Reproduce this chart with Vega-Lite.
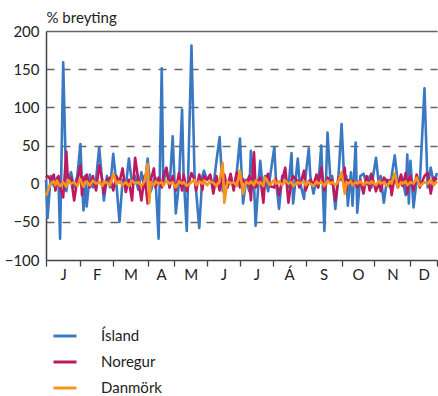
{
  "$schema": "https://vega.github.io/schema/vega-lite/v6.json",
  "width": 391,
  "height": 229,
  "autosize": {"type": "none"},
  "padding": {"left": 46, "top": 31, "right": 1, "bottom": 136},
  "config": {"font": "Lato", "view": {"stroke": null}},
  "data": {"values": [
    {"d":0,"Ísland":5,"Noregur":8,"Danmörk":-16},
    {"d":1,"Ísland":-45,"Noregur":10,"Danmörk":-10},
    {"d":3,"Ísland":10,"Noregur":5,"Danmörk":0},
    {"d":5,"Ísland":-3,"Noregur":12,"Danmörk":3},
    {"d":6,"Ísland":2,"Noregur":-9,"Danmörk":-2},
    {"d":7,"Ísland":8,"Noregur":3,"Danmörk":4},
    {"d":8,"Ísland":3,"Noregur":10,"Danmörk":0},
    {"d":9,"Ísland":-72,"Noregur":-5,"Danmörk":-3},
    {"d":11,"Ísland":159,"Noregur":-18,"Danmörk":2},
    {"d":13,"Ísland":-10,"Noregur":42,"Danmörk":-4},
    {"d":14,"Ísland":5,"Noregur":5,"Danmörk":5},
    {"d":16,"Ísland":15,"Noregur":8,"Danmörk":0},
    {"d":18,"Ísland":-5,"Noregur":-22,"Danmörk":2},
    {"d":20,"Ísland":10,"Noregur":5,"Danmörk":-3},
    {"d":22,"Ísland":52,"Noregur":24,"Danmörk":6},
    {"d":23,"Ísland":0,"Noregur":-15,"Danmörk":0},
    {"d":24,"Ísland":-35,"Noregur":8,"Danmörk":-4},
    {"d":25,"Ísland":10,"Noregur":2,"Danmörk":2},
    {"d":26,"Ísland":-30,"Noregur":12,"Danmörk":3},
    {"d":28,"Ísland":12,"Noregur":-5,"Danmörk":-2},
    {"d":30,"Ísland":-5,"Noregur":10,"Danmörk":4},
    {"d":32,"Ísland":5,"Noregur":-9,"Danmörk":0},
    {"d":34,"Ísland":48,"Noregur":24,"Danmörk":2},
    {"d":36,"Ísland":0,"Noregur":5,"Danmörk":-3},
    {"d":37,"Ísland":-22,"Noregur":-13,"Danmörk":3},
    {"d":39,"Ísland":10,"Noregur":6,"Danmörk":1},
    {"d":41,"Ísland":-5,"Noregur":8,"Danmörk":-2},
    {"d":43,"Ísland":39,"Noregur":-9,"Danmörk":13},
    {"d":45,"Ísland":0,"Noregur":10,"Danmörk":0},
    {"d":47,"Ísland":-50,"Noregur":2,"Danmörk":3},
    {"d":49,"Ísland":5,"Noregur":20,"Danmörk":-2},
    {"d":51,"Ísland":-5,"Noregur":-11,"Danmörk":2},
    {"d":53,"Ísland":33,"Noregur":5,"Danmörk":-3},
    {"d":55,"Ísland":0,"Noregur":-22,"Danmörk":4},
    {"d":57,"Ísland":10,"Noregur":34,"Danmörk":0},
    {"d":59,"Ísland":-8,"Noregur":5,"Danmörk":2},
    {"d":61,"Ísland":15,"Noregur":-22,"Danmörk":-3},
    {"d":63,"Ísland":-5,"Noregur":10,"Danmörk":3},
    {"d":65,"Ísland":33,"Noregur":-26,"Danmörk":26},
    {"d":66,"Danmörk":-25},
    {"d":67,"Ísland":-10,"Noregur":5,"Danmörk":2},
    {"d":69,"Ísland":5,"Noregur":20,"Danmörk":-2},
    {"d":70,"Ísland":8,"Noregur":-5,"Danmörk":3},
    {"d":72,"Ísland":-72,"Noregur":8,"Danmörk":0},
    {"d":74,"Ísland":151,"Noregur":-5,"Danmörk":2},
    {"d":75,"Ísland":0,"Noregur":10,"Danmörk":-3},
    {"d":77,"Ísland":20,"Noregur":21,"Danmörk":4},
    {"d":79,"Ísland":-5,"Noregur":-5,"Danmörk":0},
    {"d":81,"Ísland":62,"Noregur":10,"Danmörk":2},
    {"d":83,"Ísland":-39,"Noregur":-9,"Danmörk":-5},
    {"d":85,"Ísland":0,"Noregur":14,"Danmörk":3},
    {"d":87,"Ísland":97,"Noregur":-9,"Danmörk":0},
    {"d":88,"Ísland":10,"Noregur":12,"Danmörk":2},
    {"d":90,"Ísland":-62,"Noregur":-10,"Danmörk":-3},
    {"d":93,"Ísland":181,"Noregur":14,"Danmörk":2},
    {"d":95,"Ísland":10,"Noregur":5,"Danmörk":5},
    {"d":96,"Ísland":-10,"Noregur":-9,"Danmörk":-2},
    {"d":98,"Ísland":-58,"Noregur":12,"Danmörk":3},
    {"d":100,"Ísland":10,"Noregur":-8,"Danmörk":0},
    {"d":101,"Ísland":17,"Noregur":10,"Danmörk":4},
    {"d":103,"Ísland":5,"Noregur":5,"Danmörk":-2},
    {"d":105,"Ísland":10,"Noregur":12,"Danmörk":3},
    {"d":107,"Ísland":-5,"Noregur":-13,"Danmörk":1},
    {"d":109,"Ísland":30,"Noregur":10,"Danmörk":-3},
    {"d":111,"Ísland":61,"Noregur":-9,"Danmörk":4},
    {"d":113,"Ísland":-10,"Noregur":8,"Danmörk":27},
    {"d":114,"Ísland":8,"Noregur":12,"Danmörk":-25},
    {"d":116,"Ísland":-5,"Noregur":-5,"Danmörk":3},
    {"d":118,"Ísland":10,"Noregur":13,"Danmörk":0},
    {"d":120,"Ísland":-5,"Noregur":-9,"Danmörk":2},
    {"d":122,"Ísland":15,"Noregur":15,"Danmörk":-3},
    {"d":124,"Ísland":59,"Noregur":-5,"Danmörk":17},
    {"d":126,"Ísland":-26,"Noregur":6,"Danmörk":-13},
    {"d":128,"Ísland":5,"Noregur":-2,"Danmörk":2},
    {"d":130,"Ísland":-10,"Noregur":10,"Danmörk":0},
    {"d":131,"Ísland":43,"Noregur":-22,"Danmörk":3},
    {"d":133,"Ísland":0,"Noregur":41,"Danmörk":-2},
    {"d":134,"Ísland":-55,"Noregur":-5,"Danmörk":4},
    {"d":136,"Ísland":5,"Noregur":5,"Danmörk":0},
    {"d":137,"Ísland":30,"Noregur":8,"Danmörk":2},
    {"d":139,"Ísland":-15,"Noregur":-25,"Danmörk":-3},
    {"d":140,"Ísland":10,"Noregur":5,"Danmörk":8},
    {"d":142,"Ísland":-10,"Noregur":13,"Danmörk":2},
    {"d":143,"Ísland":5,"Noregur":-3,"Danmörk":-2},
    {"d":146,"Ísland":48,"Noregur":-5,"Danmörk":5},
    {"d":147,"Ísland":5,"Noregur":6,"Danmörk":0},
    {"d":149,"Ísland":-33,"Noregur":-15,"Danmörk":3},
    {"d":151,"Ísland":10,"Noregur":5,"Danmörk":-2},
    {"d":153,"Ísland":8,"Noregur":21,"Danmörk":4},
    {"d":155,"Ísland":-5,"Noregur":-25,"Danmörk":0},
    {"d":157,"Ísland":40,"Noregur":5,"Danmörk":2},
    {"d":158,"Ísland":-26,"Noregur":10,"Danmörk":-3},
    {"d":161,"Ísland":33,"Noregur":3,"Danmörk":2},
    {"d":162,"Ísland":5,"Noregur":-5,"Danmörk":0},
    {"d":165,"Ísland":-20,"Noregur":17,"Danmörk":3},
    {"d":166,"Ísland":10,"Noregur":-9,"Danmörk":-2},
    {"d":168,"Ísland":46,"Noregur":3,"Danmörk":2},
    {"d":169,"Ísland":10,"Noregur":5,"Danmörk":0},
    {"d":171,"Ísland":-13,"Noregur":-2,"Danmörk":-3},
    {"d":173,"Ísland":5,"Noregur":12,"Danmörk":3},
    {"d":174,"Ísland":-5,"Noregur":-5,"Danmörk":0},
    {"d":176,"Ísland":50,"Noregur":21,"Danmörk":2},
    {"d":178,"Ísland":-62,"Noregur":-9,"Danmörk":-3},
    {"d":180,"Ísland":67,"Noregur":8,"Danmörk":4},
    {"d":182,"Ísland":0,"Noregur":2,"Danmörk":0},
    {"d":183,"Ísland":10,"Noregur":5,"Danmörk":2},
    {"d":185,"Ísland":-33,"Noregur":-22,"Danmörk":-2},
    {"d":187,"Ísland":10,"Noregur":8,"Danmörk":3},
    {"d":189,"Ísland":78,"Noregur":5,"Danmörk":15},
    {"d":191,"Ísland":-10,"Noregur":21,"Danmörk":-13},
    {"d":192,"Ísland":10,"Noregur":-9,"Danmörk":2},
    {"d":193,"Ísland":-29,"Noregur":5,"Danmörk":0},
    {"d":195,"Ísland":15,"Noregur":0,"Danmörk":3},
    {"d":196,"Ísland":-29,"Noregur":3,"Danmörk":-2},
    {"d":198,"Ísland":54,"Noregur":2,"Danmörk":2},
    {"d":199,"Ísland":-38,"Noregur":-5,"Danmörk":0},
    {"d":201,"Ísland":10,"Noregur":5,"Danmörk":3},
    {"d":203,"Ísland":13,"Noregur":-13,"Danmörk":-2},
    {"d":205,"Ísland":0,"Noregur":10,"Danmörk":2},
    {"d":207,"Ísland":10,"Noregur":-9,"Danmörk":0},
    {"d":208,"Ísland":-5,"Noregur":13,"Danmörk":3},
    {"d":211,"Ísland":34,"Noregur":-10,"Danmörk":-2},
    {"d":213,"Ísland":-5,"Noregur":5,"Danmörk":4},
    {"d":214,"Ísland":10,"Noregur":-10,"Danmörk":0},
    {"d":216,"Ísland":-25,"Noregur":8,"Danmörk":2},
    {"d":218,"Ísland":5,"Noregur":3,"Danmörk":-3},
    {"d":220,"Ísland":-5,"Noregur":5,"Danmörk":3},
    {"d":221,"Ísland":10,"Noregur":-15,"Danmörk":0},
    {"d":223,"Ísland":37,"Noregur":10,"Danmörk":14},
    {"d":225,"Ísland":0,"Noregur":-5,"Danmörk":-5},
    {"d":227,"Ísland":10,"Noregur":12,"Danmörk":2},
    {"d":228,"Ísland":5,"Noregur":-3,"Danmörk":0},
    {"d":230,"Ísland":-15,"Noregur":14,"Danmörk":3},
    {"d":231,"Ísland":38,"Noregur":-13,"Danmörk":-2},
    {"d":232,"Ísland":-26,"Noregur":5,"Danmörk":0},
    {"d":233,"Ísland":30,"Noregur":10,"Danmörk":2},
    {"d":235,"Ísland":-31,"Noregur":-9,"Danmörk":0},
    {"d":237,"Ísland":5,"Noregur":12,"Danmörk":8},
    {"d":239,"Ísland":0,"Noregur":-5,"Danmörk":-3},
    {"d":242,"Ísland":125,"Noregur":10,"Danmörk":2},
    {"d":244,"Ísland":-5,"Noregur":14,"Danmörk":0},
    {"d":246,"Ísland":21,"Noregur":-13,"Danmörk":5},
    {"d":248,"Ísland":0,"Noregur":8,"Danmörk":-2},
    {"d":250,"Ísland":14,"Noregur":5,"Danmörk":3}
  ]},
  "transform": [
    {"fold": ["Ísland", "Noregur", "Danmörk"], "as": ["land", "v"]},
    {"filter": "isValid(datum.v)"}
  ],
  "mark": {"type": "line", "strokeWidth": 2.6, "strokeJoin": "round"},
  "encoding": {
    "x": {
      "field": "d", "type": "quantitative",
      "scale": {"domain": [0, 250], "nice": false, "zero": false},
      "axis": {
        "title": null,
        "grid": false,
        "values": [0, 11, 22, 32.5, 43, 54, 65, 73.5, 82, 92.5, 103, 113.5, 124, 134.5, 145, 155.5, 166, 177.5, 189, 199.5, 210, 221.5, 233, 241.5, 250],
        "labelExpr": "['J','F','M','A','M','J','J','Á','S','O','N','D'][indexof([11,32.5,54,73.5,92.5,113.5,134.5,155.5,177.5,199.5,221.5,241.5], datum.value)] || ''",
        "labelOverlap": false,
        "labelFlush": false,
        "labelFontSize": 15,
        "labelColor": "#222",
        "labelPadding": 1,
        "tickSize": 6,
        "tickColor": "#444",
        "tickWidth": 1.3,
        "tickOpacity": {"condition": {"test": "indexof([0,22,43,65,82,103,124,145,166,189,210,233,250], datum.value) >= 0", "value": 1}, "value": 0},
        "domainColor": "#444",
        "domainWidth": 1.5
      }
    },
    "y": {
      "field": "v", "type": "quantitative",
      "scale": {"domain": [-100, 200], "nice": false},
      "axis": {
        "title": "% breyting",
        "titleAngle": 0,
        "titleAlign": "left",
        "titleBaseline": "alphabetic",
        "titleX": 0,
        "titleY": -9,
        "titleFontSize": 15,
        "titleFontWeight": "normal",
        "titleColor": "#222",
        "values": [-100, -50, 0, 50, 100, 150, 200],
        "ticks": false,
        "labelPadding": 7,
        "labelFontSize": 15,
        "labelColor": "#222",
        "domainColor": "#444",
        "domainWidth": 1.5,
        "grid": true,
        "gridColor": "#666",
        "gridWidth": 1.6,
        "gridDash": {"condition": {"test": "datum.value == 200", "value": []}, "value": [8, 8]},
        "gridOpacity": {"condition": {"test": "datum.value == 0 || datum.value == -100", "value": 0}, "value": 1}
      }
    },
    "color": {
      "field": "land", "type": "nominal",
      "scale": {"domain": ["Ísland", "Noregur", "Danmörk"], "range": ["#3a78c3", "#c0185f", "#f7941d"]},
      "legend": {
        "title": null,
        "orient": "none",
        "legendX": 6,
        "legendY": 292,
        "direction": "vertical",
        "symbolType": "stroke",
        "symbolStrokeWidth": 3,
        "symbolSize": 529,
        "labelFontSize": 15,
        "labelColor": "#222",
        "labelOffset": 23,
        "rowPadding": 5,
        "padding": 0
      }
    },
    "order": {"field": "d", "type": "quantitative"}
  }
}
